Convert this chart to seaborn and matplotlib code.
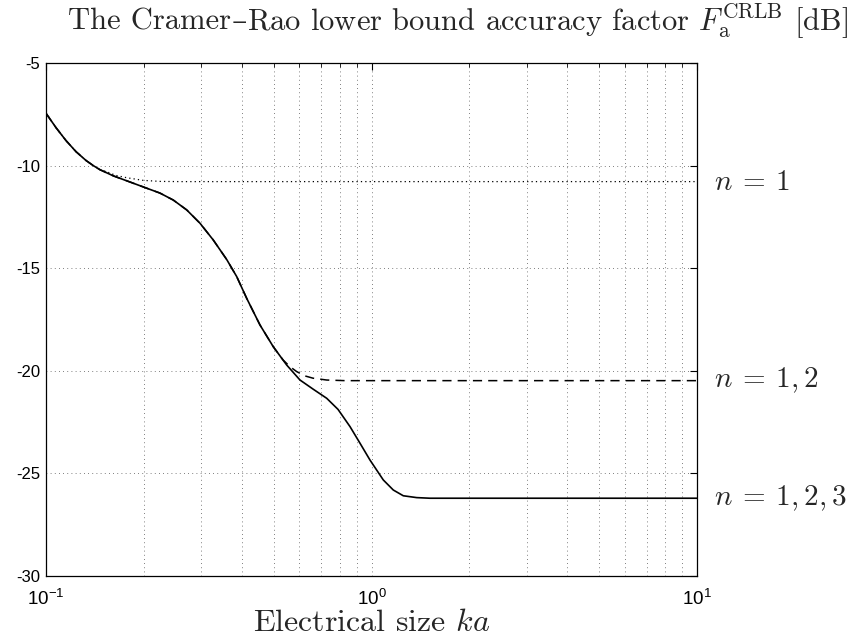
import numpy as np
import pandas as pd
import matplotlib
matplotlib.use("Agg")
import matplotlib.pyplot as plt
import matplotlib.transforms as mtransforms
from matplotlib.ticker import FixedLocator, FixedFormatter, LogLocator, NullFormatter
import seaborn as sns

# ---- data ----
ka_n123 = [0.1, 0.10733, 0.11520, 0.12365, 0.13271, 0.13973, 0.14651, 0.16098,
           0.17696, 0.19903, 0.22398, 0.24610, 0.27059, 0.29726, 0.32664,
           0.35915, 0.38541, 0.41363, 0.45445, 0.49928, 0.54891, 0.60307,
           0.66254, 0.72843, 0.78909, 0.85898, 0.92191, 0.98944, 1.08706,
           1.16673, 1.25222, 1.37694, 1.51227, 10.0]
f_n123 = [-7.45, -8.15, -8.78, -9.32, -9.75, -10.0, -10.2, -10.50,
          -10.74, -11.04, -11.34, -11.68, -12.16, -12.81, -13.63,
          -14.58, -15.41, -16.47, -17.77, -18.83, -19.72, -20.45,
          -20.90, -21.34, -21.88, -22.72, -23.53, -24.35, -25.32,
          -25.81, -26.09, -26.18, -26.21, -26.21]

ka_n12 = [0.1, 0.10733, 0.11520, 0.12365, 0.13271, 0.13973, 0.14651, 0.16098,
          0.17696, 0.19903, 0.22398, 0.24610, 0.27059, 0.29726, 0.32664,
          0.35915, 0.38541, 0.41363, 0.45445, 0.49928, 0.5348, 0.56187,
          0.58916, 0.62474, 0.66114, 0.72843, 0.82897, 10.0]
f_n12 = [-7.45, -8.15, -8.78, -9.32, -9.75, -10.0, -10.2, -10.50,
         -10.74, -11.04, -11.34, -11.68, -12.16, -12.81, -13.63,
         -14.58, -15.41, -16.47, -17.77, -18.83, -19.47, -19.80,
         -20.04, -20.25, -20.36, -20.45, -20.48, -20.48]

ka_n1 = [0.1, 0.10733, 0.11520, 0.12365, 0.13271, 0.13973, 0.14651, 0.15367,
         0.16409, 0.17696, 0.19903, 0.22398, 0.25801, 10.0]
f_n1 = [-7.45, -8.15, -8.78, -9.32, -9.75, -10.0, -10.2, -10.30,
        -10.48, -10.59, -10.72, -10.77, -10.78, -10.78]

curve_labels = [r"$n\:=\:1$", r"$n\:=\:1,2$", r"$n\:=\:1,2,3$"]
label_levels = [-10.78, -20.48, -26.21]

y_ticks = [-30, -25, -20, -15, -10, -5]
y_ticklabels = ["-30", "-25", "-20", "-15", "-10", "-5"]
x_ticks = [0.1, 1.0, 10.0]
x_ticklabels = [r"$\mathregular{10^{-1}}$", r"$\mathregular{10^{0}}$", r"$\mathregular{10^{1}}$"]

title_parts = ["The Cramer", "–", r"Rao lower bound accuracy factor $F_{\mathrm{a}}^{\mathrm{CRLB}}$ [dB]"]
xlabel_text = r"Electrical size $ka$"

# ---- style ----
sns.set_style("white")
plt.rcParams["font.family"] = ["Liberation Sans", "DejaVu Sans"]
plt.rcParams["mathtext.fontset"] = "custom"
plt.rcParams["mathtext.rm"] = "Liberation Sans"
plt.rcParams["mathtext.it"] = "Liberation Sans:italic"
plt.rcParams["axes.unicode_minus"] = False

fig = plt.figure(figsize=(8.53, 6.41), dpi=100)
ax = fig.add_axes([46 / 853, 1 - 576 / 641, (697 - 46) / 853, (576 - 63) / 641])

df123 = pd.DataFrame({"ka": ka_n123, "F": f_n123})
df12 = pd.DataFrame({"ka": ka_n12, "F": f_n12})
df1 = pd.DataFrame({"ka": ka_n1, "F": f_n1})

sns.lineplot(data=df1, x="ka", y="F", ax=ax, color="black", linewidth=0.9,
             linestyle=(0, (1, 2.5)), zorder=3)
sns.lineplot(data=df12, x="ka", y="F", ax=ax, color="black", linewidth=1.1,
             linestyle=(0, (6, 4)), zorder=3)
sns.lineplot(data=df123, x="ka", y="F", ax=ax, color="black", linewidth=1.2,
             zorder=4)

ax.set_xscale("log")
ax.set_xlim(0.1, 10)
ax.set_ylim(-30, -5)

ax.xaxis.set_major_locator(FixedLocator(x_ticks))
ax.xaxis.set_major_formatter(FixedFormatter(x_ticklabels))
ax.xaxis.set_minor_locator(LogLocator(base=10, subs=np.arange(2, 10), numticks=20))
ax.xaxis.set_minor_formatter(NullFormatter())
ax.yaxis.set_major_locator(FixedLocator(y_ticks))
ax.yaxis.set_major_formatter(FixedFormatter(y_ticklabels))

ax.tick_params(which="both", direction="in", top=True, right=True, colors="black")
ax.tick_params(which="major", length=5, width=0.8)
ax.tick_params(which="minor", length=3, width=0.6)
ax.tick_params(axis="x", pad=9.5, labelsize=13.5)
ax.tick_params(axis="y", pad=4, labelsize=12)

ax.grid(True, which="major", axis="both", color="#555555", linestyle=(0, (1, 4)), linewidth=0.6)
ax.grid(True, which="minor", axis="x", color="#555555", linestyle=(0, (1, 4)), linewidth=0.6)
ax.set_axisbelow(True)

for s in ax.spines.values():
    s.set_color("black")
    s.set_linewidth(0.9)

ax.set_xlabel("")
ax.set_ylabel("")

trans = mtransforms.blended_transform_factory(ax.transAxes, ax.transData)
for lab, lvl in zip(curve_labels, label_levels):
    ax.text(1.026, lvl, lab, transform=trans, ha="left", va="center",
            fontsize=21, math_fontfamily="cm", clip_on=False)

# title built from pieces so the en dash can come from a font that has it
renderer = fig.canvas.get_renderer()
fams = [["cmr10"], ["DejaVu Serif"], ["cmr10"]]
pieces = []
for txt, fam in zip(title_parts, fams):
    t = fig.text(0, 0.5, txt, ha="left", va="baseline", fontsize=22,
                 family=fam, math_fontfamily="cm")
    pieces.append(t)
widths = []
for t in pieces:
    bb = t.get_window_extent(renderer=renderer)
    widths.append(bb.width / fig.bbox.width)
total = sum(widths)
x0 = 458 / 853 - total / 2
title_y = 1 - 30 / 641
for t, w in zip(pieces, widths):
    t.set_position((x0, title_y))
    x0 += w

fig.text(371.5 / 853, 1 - 623 / 641, xlabel_text, ha="center", va="center",
         fontsize=23, family=["cmr10"], math_fontfamily="cm")

fig.savefig("out.png", dpi=100)
